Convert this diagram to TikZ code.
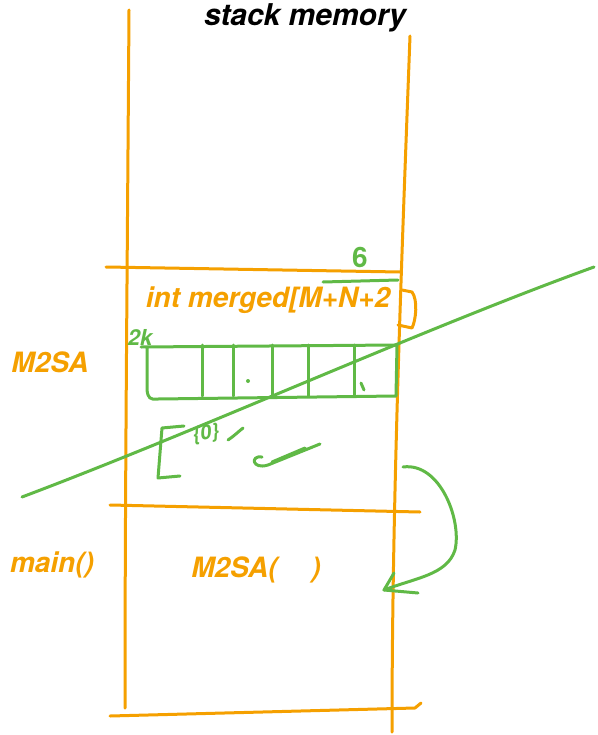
\documentclass[tikz,border=0pt]{standalone}
\usepackage{fontspec}
\setmainfont{TeX Gyre Heros}
\definecolor{ora}{RGB}{245,160,0}
\definecolor{grn}{RGB}{96,185,70}
\begin{document}
\begin{tikzpicture}[x=1pt,y=-1pt,
  oline/.style={draw=ora,line width=3pt,line cap=round,line join=round},
  gline/.style={draw=grn,line width=3pt,line cap=round,line join=round},
  olbl/.style={text=ora,inner sep=0pt,font=\fontsize{28}{32}\selectfont\bfseries\itshape},
  glbl/.style={text=grn,inner sep=0pt,font=\fontsize{22}{26}\selectfont\bfseries\itshape}]
\useasboundingbox (0,0) rectangle (597,735);
% title
\node[anchor=base,inner sep=0pt,font=\fontsize{30}{34}\selectfont\bfseries\itshape] (title) at (305,26) {stack memory};
% stack frame lines
\draw[oline] (129,10) .. controls (127,300) and (125,500) .. (125,708);
\draw[oline] (410,36) .. controls (402,250) and (392,500) .. (392,732);
\draw[oline] (106,267) -- (400,272);
\draw[oline] (110,505) -- (420,512);
\draw[oline] (110,716) -- (415,708) -- (421,703);
% labels
\node[olbl] (m2sa) at (50,362) {M2SA};
\node[olbl] (main) at (52,565) {main()};
\node[olbl] (call) at (256,570) {M2SA(\hspace{1.2em})};
\node[olbl] (merged) at (268,300) {int merged[M+N+2};
\draw[oline] (402,290) -- (412,292) .. controls (418,300) and (416,320) .. (412,328) -- (398,325);
% size annotation
\node[glbl,font=\fontsize{28}{32}\selectfont\bfseries] (six) at (360,257) {6};
\draw[gline] (323,282) -- (398,280);
\node[glbl] (twok) at (140,337) {2k};
% array
\draw[gline] (141,347) -- (397,345) -- (396,396) -- (158,399) .. controls (150,400) and (148,398) .. (147,390) -- (147,348);
\foreach \xx in {202,233,272,308,354}
  \draw[gline] (\xx,345) -- (\xx,396);
\fill[grn] (248,381) circle (2pt);
\draw[gline] (361,383) -- (364,390);
% initializer scribble
\draw[gline] (184,426) -- (162,428) -- (158,478) -- (180,476);
\node[glbl,font=\fontsize{20}{24}\selectfont\bfseries\itshape,rotate=10] (zero) at (206,434) {\{0\}};
\draw[gline] (228,440) .. controls (234,436) and (238,432) .. (243,428);
\draw[gline] (262,457) .. controls (250,455) and (252,470) .. (268,465) -- (320,444);
\draw[gline] (305,448) -- (272,462);
% crossing line
\coordinate (c1) at (22,497);
\coordinate (c2) at (594,267);
\draw[gline] (c1) .. controls (200,430) and (420,330) .. (c2);
% call arrow
\coordinate (a1) at (403,467);
\coordinate (a2) at (384,590);
\draw[gline] (a1) .. controls (440,462) and (462,520) .. (455,550) .. controls (447,575) and (415,578) .. (a2);
\draw[gline] (394,573) -- (a2) -- (418,593);
\end{tikzpicture}
\end{document}
